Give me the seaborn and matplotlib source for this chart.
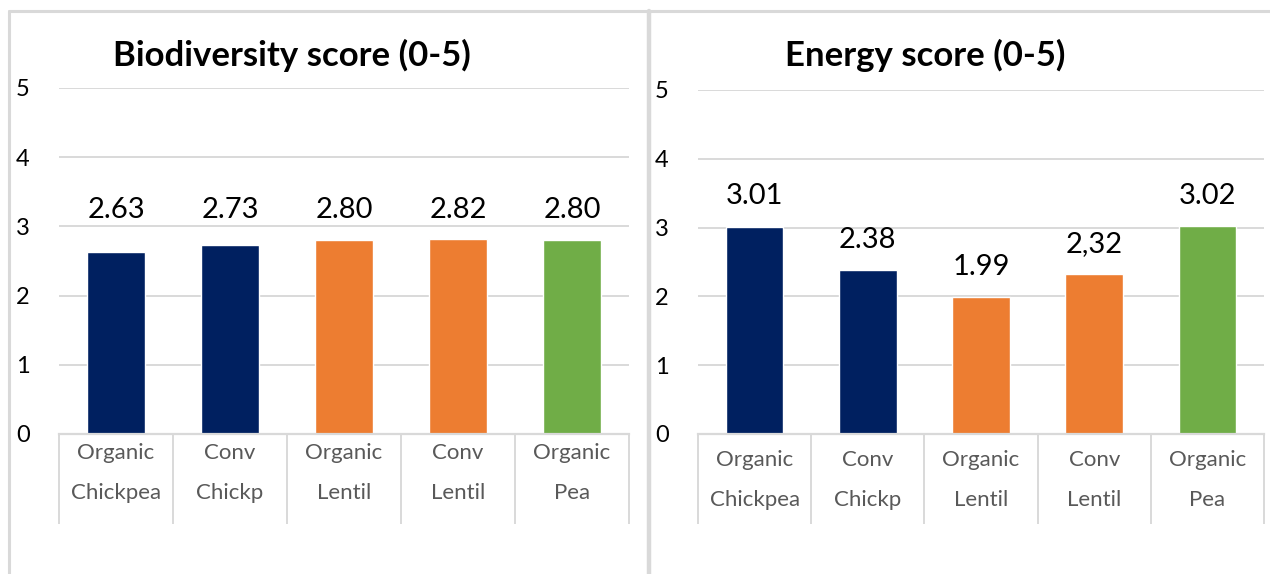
import numpy as np
import pandas as pd
import seaborn as sns
import matplotlib.pyplot as plt
from matplotlib.lines import Line2D
from matplotlib.transforms import blended_transform_factory

# data
cat_top = ['Organic', 'Conv', 'Organic', 'Conv', 'Organic']
cat_bottom = ['Chickpea', 'Chickp', 'Lentil', 'Lentil', 'Pea']
categories = ['Organic Chickpea', 'Conv Chickp', 'Organic Lentil', 'Conv Lentil', 'Organic Pea']
bio_values = [2.63, 2.73, 2.80, 2.82, 2.80]
bio_labels = ['2.63', '2.73', '2.80', '2.82', '2.80']
energy_values = [3.01, 2.38, 1.99, 2.32, 3.02]
energy_labels = ['3.01', '2.38', '1.99', '2,32', '3.02']
bar_colors = ['#002060', '#002060', '#ED7D31', '#ED7D31', '#70AD47']

sns.set_style('white')
plt.rcParams['font.family'] = ['Lato', 'DejaVu Sans']

W, H = 1270, 574
fig = plt.figure(figsize=(12.7, 5.74), dpi=100)
fig.patch.set_facecolor('white')

grey = '#d9d9d9'


def px_line(x0, y0, x1, y1, lw):
    fig.add_artist(Line2D([x0 / W, x1 / W], [1 - y0 / H, 1 - y1 / H],
                          transform=fig.transFigure, color=grey, lw=lw))


# panel frames
px_line(8.5, 10.5, 1270, 10.5, 2.2)
px_line(8.5, 10.5, 8.5, 574, 2.2)
px_line(649, 10.5, 649, 574, 3.2)


def draw_panel(ax, values, labels, title, title_x, label_fixed, lab_y1, lab_y2):
    df = pd.DataFrame({'cat': categories, 'val': values})
    sns.barplot(data=df, x='cat', y='val', hue='cat', palette=bar_colors,
                width=0.51, legend=False, ax=ax, saturation=1)
    ax.set_ylim(0, 5)
    ax.set_xlim(-0.5, 4.5)
    ax.set_yticks([0, 1, 2, 3, 4, 5])
    ax.set_yticklabels(['0', '1', '2', '3', '4', '5'], fontsize=17, color='black')
    ax.tick_params(axis='y', length=0, pad=21)
    ax.yaxis.grid(True, color=grey, lw=1.4)
    ax.set_axisbelow(True)
    for s in ['top', 'right', 'left']:
        ax.spines[s].set_visible(False)
    ax.spines['bottom'].set_color(grey)
    ax.spines['bottom'].set_linewidth(1.6)
    ax.set_xlabel('')
    ax.set_ylabel('')
    ax.set_xticks(range(5))
    ax.set_xticklabels([])
    ax.tick_params(axis='x', which='major', length=0)
    ax.set_xticks(np.arange(-0.5, 5, 1), minor=True)
    ax.tick_params(axis='x', which='minor', bottom=True, length=65, width=1.4,
                   color=grey, direction='out')

    tr = blended_transform_factory(ax.transData, ax.transAxes)
    for i in range(5):
        ax.text(i, lab_y1, cat_top[i], transform=tr, ha='center', va='center',
                fontsize=16, color='#595959')
        ax.text(i, lab_y2, cat_bottom[i], transform=tr, ha='center', va='center',
                fontsize=16, color='#595959')

    for i, (v, lab) in enumerate(zip(values, labels)):
        if label_fixed is not None:
            ax.text(i, label_fixed, lab, ha='center', va='center', fontsize=21,
                    color='black')
        else:
            ax.annotate(lab, (i, v), xytext=(0, 22), textcoords='offset points',
                        ha='center', va='center', fontsize=21, color='black')

    fig.text(title_x / W, 1 - 55 / H, title, ha='center', va='center',
             fontsize=25, fontweight='bold', color='black')


ax1 = fig.add_axes([59 / W, 1 - 434 / H, 570 / W, 346 / H])
draw_panel(ax1, bio_values, bio_labels, 'Biodiversity score (0-5)', 292,
           3.24, -0.055, -0.17)

ax2 = fig.add_axes([698 / W, 1 - 434 / H, 566 / W, 344 / H])
draw_panel(ax2, energy_values, energy_labels, 'Energy score (0-5)', 925,
           None, -0.076, -0.192)

fig.savefig('out.png', dpi=100, facecolor='white')
